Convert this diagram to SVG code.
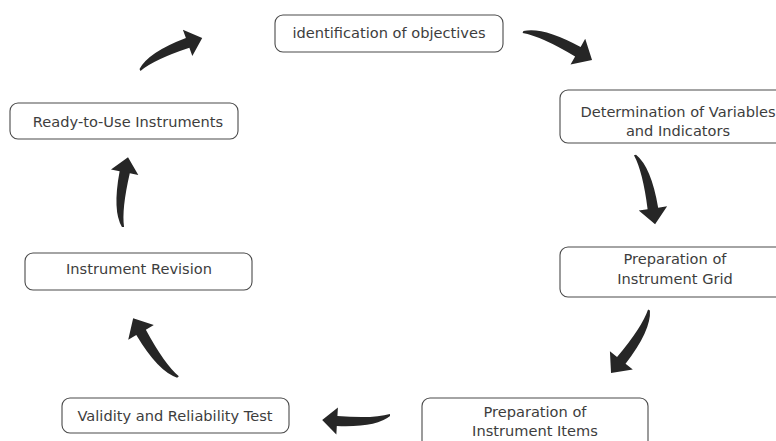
<svg xmlns="http://www.w3.org/2000/svg" width="776" height="441" viewBox="0 0 776 441">
<defs>
<style>
.box{fill:#fff;stroke:#4a4a4a;stroke-width:1.1}
.lbl{font-family:"DejaVu Sans","Liberation Sans",sans-serif;font-size:14.6px;fill:#3d3d3d;text-anchor:middle}
.arr{fill:#262626}
</style>
<path id="arrow" d="M0,-1.5 Q22,-17 79.2,-10.5 L80.8,-23 L100,0 L75.6,16.5 L77.2,4.2 Q25,-4 0,1.5 Z"/>
</defs>
<rect width="776" height="441" fill="#fff"/>
<g id="n1"><rect class="box" x="275" y="15" width="228" height="37" rx="8"/><text class="lbl" x="389" y="38">identification of objectives</text></g>
<g id="n2"><rect class="box" x="560" y="90" width="236" height="53" rx="8"/><text class="lbl" x="678" y="117">Determination of Variables</text><text class="lbl" x="678" y="136">and Indicators</text></g>
<g id="n3"><rect class="box" x="560" y="247" width="232" height="50" rx="8"/><text class="lbl" x="675" y="264">Preparation of</text><text class="lbl" x="675" y="284">Instrument Grid</text></g>
<g id="n4"><rect class="box" x="422" y="398" width="226" height="55" rx="8"/><text class="lbl" x="535" y="417">Preparation of</text><text class="lbl" x="535" y="436">Instrument Items</text></g>
<g id="n5"><rect class="box" x="62" y="398" width="227" height="35" rx="8"/><text class="lbl" x="175" y="421">Validity and Reliability Test</text></g>
<g id="n6"><rect class="box" x="25" y="253" width="227" height="37" rx="8"/><text class="lbl" x="139" y="274">Instrument Revision</text></g>
<g id="n7"><rect class="box" x="10" y="103" width="228" height="36" rx="8"/><text class="lbl" x="128" y="127">Ready-to-Use Instruments</text></g>
<g id="connectors" class="arr">
<use href="#arrow" transform="translate(523,32) rotate(22.1) scale(0.745)"/>
<use href="#arrow" transform="translate(635,155) rotate(73.8) scale(0.72)"/>
<use href="#arrow" transform="translate(649,310) rotate(121.1) scale(0.735)"/>
<use href="#arrow" transform="translate(390,415) rotate(175.8) scale(0.68)"/>
<use href="#arrow" transform="translate(178,377) rotate(232.7) scale(0.74)"/>
<use href="#arrow" transform="translate(123,227) rotate(274.1) scale(0.70)"/>
<use href="#arrow" transform="translate(140,70) rotate(-27.3) scale(0.70)"/>
</g>
</svg>
